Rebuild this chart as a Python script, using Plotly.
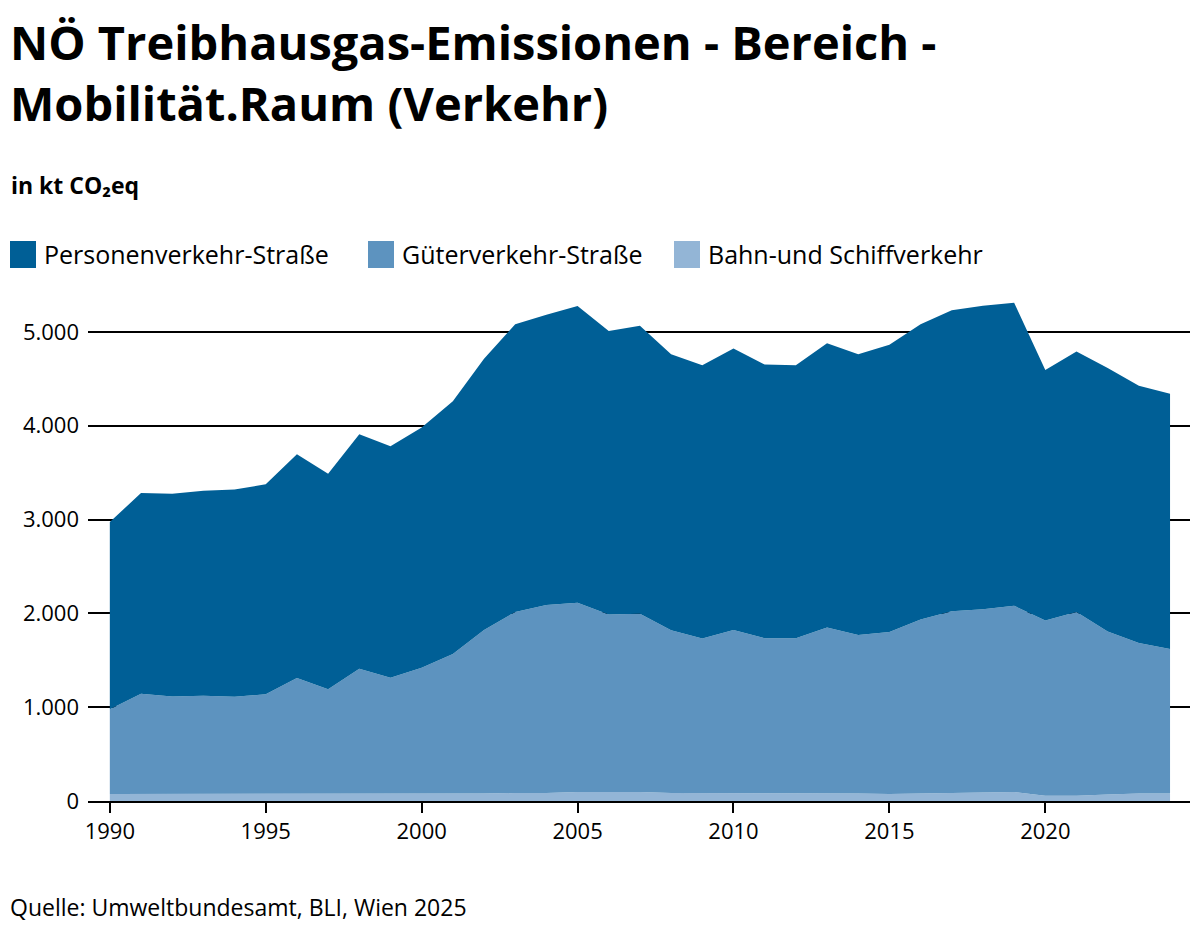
import plotly.graph_objs as go

# Data (kt CO2eq)
years = list(range(1990, 2025))

bahn_schiff = [75, 75, 75, 75, 80, 75, 75, 75, 75, 80,
               80, 80, 80, 85, 85, 95, 95, 95, 85, 85,
               85, 85, 85, 80, 80, 75, 80, 80, 85, 95,
               55, 55, 70, 80, 80]

gueter_strasse = [903, 1068, 1039, 1046, 1030, 1064, 1236, 1115, 1335, 1235,
                  1341, 1488, 1744, 1930, 2003, 2019, 1894, 1901, 1736, 1648,
                  1739, 1651, 1651, 1770, 1689, 1727, 1854, 1942, 1959, 1986,
                  1868, 1960, 1736, 1605, 1539]

personen_strasse = [1996, 2139, 2161, 2187, 2209, 2238, 2385, 2297, 2498, 2465,
                    2561, 2692, 2890, 3066, 3095, 3161, 3022, 3070, 2941, 2912,
                    3000, 2916, 2909, 3029, 2993, 3062, 3147, 3209, 3234, 3230,
                    2670, 2776, 2809, 2740, 2722]

series_names = ["Bahn-und Schiffverkehr", "Güterverkehr-Straße", "Personenverkehr-Straße"]
series_values = [bahn_schiff, gueter_strasse, personen_strasse]
series_colors = ["#93B5D6", "#5D93BF", "#005F96"]

font_family = "Open Sans"

# figure sits in the page with the browser's 8px body margin
OFF = 8
W, H = 1184, 918
L, R, T, B = 80, 2, 277, 125


def xp(sx):
    # screen x (pixels) -> paper x
    return (sx - OFF - L) / (W - L - R)


def yp(sy):
    # screen y (pixels) -> paper y
    return (H - B - (sy - OFF)) / (H - T - B)


fig = go.Figure()
for name, vals, col in zip(series_names, series_values, series_colors):
    fig.add_trace(go.Scatter(
        x=years, y=vals, name=name,
        stackgroup="one", mode="lines",
        line=dict(width=0, color=col),
        fillcolor=col,
        showlegend=False,
        hovertemplate="%{x}: %{y:,.0f}<extra>" + name + "</extra>",
    ))

fig.update_layout(
    width=W, height=H,
    paper_bgcolor="white", plot_bgcolor="white",
    separators=",.",
    font=dict(family=font_family, color="#000000", size=22),
    margin=dict(l=L, r=R, t=T, b=B),
    showlegend=False,
    xaxis=dict(
        range=[1989.3, 2024.64],
        tickmode="array", tickvals=[1990, 1995, 2000, 2005, 2010, 2015, 2020],
        ticks="outside", ticklen=10, tickwidth=2, tickcolor="#000000",
        showline=True, linecolor="#000000", linewidth=2,
        showgrid=False, zeroline=False,
        tickfont=dict(size=22),
    ),
    yaxis=dict(
        range=[0, 5500],
        tickmode="array", tickvals=[0, 1000, 2000, 3000, 4000, 5000],
        tickformat=",.0f",
        showgrid=True, gridcolor="#000000", gridwidth=2,
        zeroline=False, showline=False, ticks="",
        ticklabelstandoff=8,
        tickfont=dict(size=22),
    ),
)

# title, two lines
fig.add_annotation(
    text="<b>NÖ Treibhausgas-Emissionen - Bereich -</b>",
    xref="paper", yref="paper", x=xp(8), y=yp(42), xanchor="left", yanchor="middle",
    showarrow=False, font=dict(size=47, family=font_family),
)
fig.add_annotation(
    text="<b>Mobilität.Raum (Verkehr)</b>",
    xref="paper", yref="paper", x=xp(8), y=yp(103), xanchor="left", yanchor="middle",
    showarrow=False, font=dict(size=47, family=font_family),
)
fig.add_annotation(
    text="<b>in kt CO₂eq</b>",
    xref="paper", yref="paper", x=xp(9), y=yp(185), xanchor="left", yanchor="middle",
    showarrow=False, font=dict(size=23, family=font_family),
)

# legend: squares + labels
legend_order = [2, 1, 0]
legend_square_x = [10, 368, 674]
for i, sx in zip(legend_order, legend_square_x):
    fig.add_shape(
        type="rect", xref="paper", yref="paper",
        x0=xp(sx), x1=xp(sx + 26), y0=yp(268), y1=yp(241),
        fillcolor=series_colors[i], line=dict(width=0),
    )
    fig.add_annotation(
        text=series_names[i],
        xref="paper", yref="paper", x=xp(sx + 32), y=yp(254), xanchor="left", yanchor="middle",
        showarrow=False, font=dict(size=25, family=font_family),
    )

fig.add_annotation(
    text="Quelle: Umweltbundesamt, BLI, Wien 2025",
    xref="paper", yref="paper", x=xp(8), y=yp(907), xanchor="left", yanchor="middle",
    showarrow=False, font=dict(size=23, family=font_family),
)

fig.write_html("out.html")
